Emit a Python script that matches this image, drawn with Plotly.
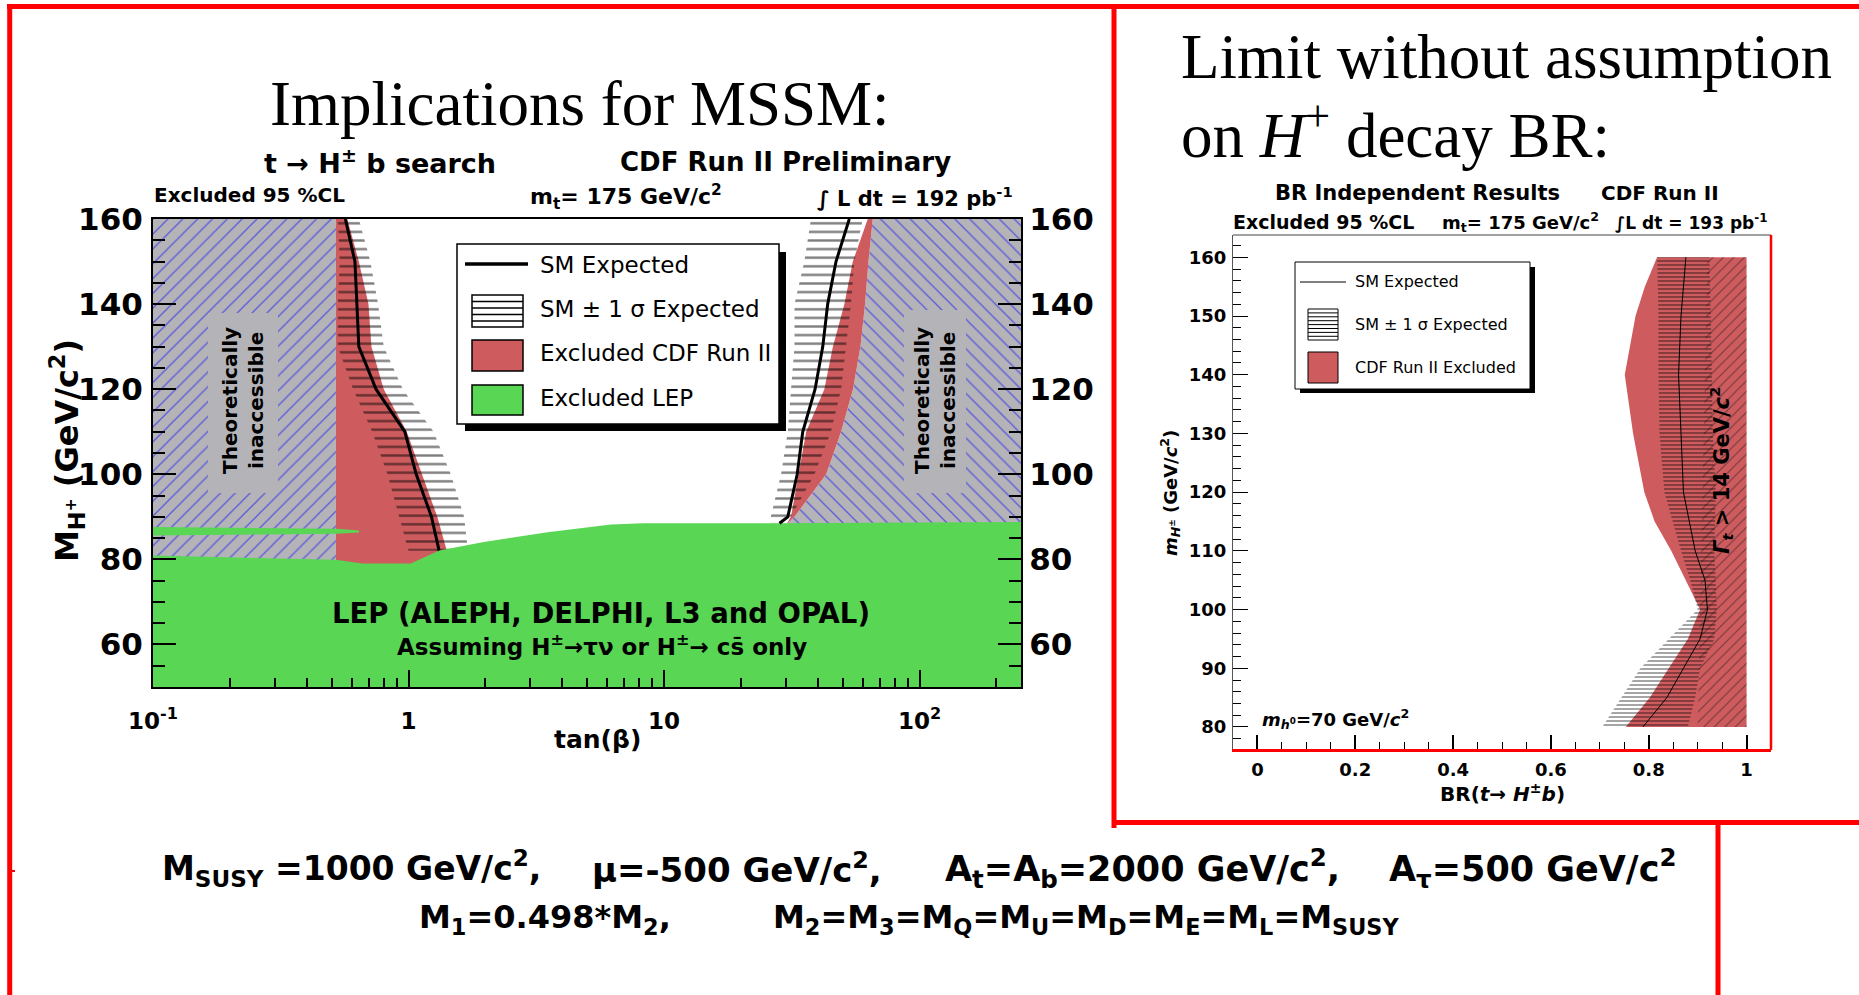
import plotly.graph_objects as go

W, H = 1859, 995
def PX(x): return x / W
def PY(y): return 1 - y / H

RED = '#ce5c5f'
GREEN = '#59d654'
GRAY = '#b4b3b8'
FRAME_RED = '#ff0000'

# ---------------- Left panel: MSSM tan(beta) vs M_H+ ----------------
x_tickvals = [0.1, 1, 10, 100]
x_ticktext = ['10<sup>-1</sup>', '1', '10', '10<sup>2</sup>']
x_minor = [0.2, 0.3, 0.4, 0.5, 0.6, 0.7, 0.8, 0.9, 2, 3, 4, 5, 6, 7, 8, 9,
           20, 30, 40, 50, 60, 70, 80, 90, 200]
y_tickvals = [60, 80, 100, 120, 140, 160]
y_minor = [50, 55, 65, 70, 75, 85, 90, 95, 105, 110, 115, 125, 130, 135, 145, 150, 155]

# LEP exclusion (top boundary of the green area)
lep_tanb = [0.1, 0.52, 0.66, 1.02, 1.32, 1.97, 3.5, 6.2, 8.3, 27.9, 250]
lep_mh = [80.9, 79.9, 79.0, 79.0, 82.1, 84.1, 86.4, 88.2, 88.5, 88.5, 88.8]
# thin LEP sliver inside the low tan(beta) region
sliver_tanb = [0.1, 0.52, 0.64, 0.64, 0.52, 0.1]
sliver_mh = [87.6, 87.2, 86.8, 86.3, 86.0, 85.6]

# low tan(beta) side
theory_low = 0.52
mh_low = [160, 150, 140, 130, 120, 110, 100, 90, 82]
obs_low = [0.576, 0.639, 0.697, 0.716, 0.800, 0.984, 1.129, 1.296, 1.412]
exp_low = [0.566, 0.617, 0.628, 0.639, 0.746, 0.967, 1.072, 1.230, 1.318]
band_low_lo = [0.529, 0.538, 0.529, 0.529, 0.607, 0.721, 0.827, 0.918, 1.0]
band_low_hi = [0.639, 0.709, 0.760, 0.800, 0.950, 1.253, 1.463, 1.65, 1.708]

# high tan(beta) side
mh_high = [160, 150, 140, 130, 120, 110, 100, 90, 88.5]
theory_high = [65.6, 63.1, 61.2, 58.7, 54.9, 49.3, 43.1, 32.4, 30.5]
obs_high = [62.7, 54.8, 50.8, 45.8, 42.4, 36.0, 33.6, 31.4, 30.3]
exp_high = [53.1, 47.1, 43.7, 41.8, 39.0, 34.9, 33.2, 30.5, 28.3]
band_high_lo = [37.6, 35.4, 32.4, 32.4, 31.4, 30.5, 28.7, 26.2, 25.8]
band_high_hi = [59.9, 55.6, 53.9, 51.6, 49.3, 45.0, 38.8, 31.4, 29.6]

# ---------------- Right panel: BR(t -> H+ b) vs m_H+ ----------------
br_tickvals = [0, 0.2, 0.4, 0.6, 0.8, 1.0]
br_ticktext = ['0', '0.2', '0.4', '0.6', '0.8', '1']
br_minor = [-0.05, 0.05, 0.1, 0.15, 0.25, 0.3, 0.35, 0.45, 0.5, 0.55, 0.65, 0.7, 0.75,
            0.85, 0.9, 0.95, 1.05]
mh_tickvals = [80, 90, 100, 110, 120, 130, 140, 150, 160]
mh_minor = [78, 82, 84, 86, 88, 92, 94, 96, 98, 102, 104, 106, 108, 112, 114, 116, 118,
            122, 124, 126, 128, 132, 134, 136, 138, 142, 144, 146, 148, 152, 154, 156, 158, 162]

mh_br = [80, 85, 90, 95, 100, 105, 110, 115, 120, 130, 140, 150, 155, 160]
obs_br = [0.753, 0.802, 0.841, 0.880, 0.905, 0.876, 0.846, 0.812, 0.791, 0.768, 0.751, 0.773, 0.792, 0.817]
mh_br_exp = [80, 85, 90, 95, 100, 105, 110, 120, 130, 140, 150, 160]
exp_br = [0.788, 0.837, 0.871, 0.905, 0.920, 0.915, 0.895, 0.871, 0.866, 0.861, 0.866, 0.876]
band_br_lo = [0.705, 0.744, 0.783, 0.841, 0.900, 0.885, 0.866, 0.832, 0.822, 0.820, 0.820, 0.817]
band_br_hi = [0.880, 0.895, 0.905, 0.934, 0.939, 0.937, 0.934, 0.937, 0.931, 0.929, 0.927, 0.924]
width_mh = [80, 100, 120, 140, 160]
width_br = [0.90, 0.905, 0.91, 0.915, 0.92]

fig = go.Figure()


def poly(xs, ys, xa='x', ya='y', **kw):
    fig.add_trace(go.Scatter(x=xs, y=ys, mode='lines', fill='toself', line=dict(width=0),
                             hoverinfo='skip', showlegend=False, xaxis=xa, yaxis=ya, **kw))


# theoretically inaccessible regions (gray + blue hatch)
poly([0.09, theory_low, theory_low, 0.09], [40, 40, 165, 165], fillcolor=GRAY,
     fillpattern=dict(shape='/', fgcolor='#0000ff', bgcolor=GRAY, size=10.5, solidity=0.12))
poly(theory_high + [theory_high[-1], 300, 300, theory_high[0]],
     mh_high + [40, 40, 165, 165], fillcolor=GRAY,
     fillpattern=dict(shape='\\', fgcolor='#0000ff', bgcolor=GRAY, size=10.5, solidity=0.12))

# CDF excluded (red)
poly([theory_low] + obs_low + [obs_low[-1], theory_low],
     [165] + mh_low + [70, 70], fillcolor=RED)
poly(obs_high + theory_high[::-1], mh_high + mh_high[::-1], fillcolor=RED)

# SM +- 1 sigma bands (horizontal hatch)
band_pat = dict(shape='-', fgcolor='black', bgcolor='rgba(0,0,0,0)', size=8.6, solidity=0.28)
poly(band_low_lo + band_low_hi[::-1], mh_low + mh_low[::-1], fillcolor='rgba(0,0,0,0)',
     fillpattern=band_pat)
poly(band_high_lo + band_high_hi[::-1], mh_high + mh_high[::-1], fillcolor='rgba(0,0,0,0)',
     fillpattern=band_pat)

# SM expected line (low tan beta)
fig.add_trace(go.Scatter(x=exp_low, y=mh_low, mode='lines', line=dict(color='black', width=3),
                         hoverinfo='skip', showlegend=False, xaxis='x', yaxis='y'))

# LEP exclusion (green)
poly(lep_tanb + [300, 0.09], lep_mh + [40, 40], fillcolor=GREEN)
poly(sliver_tanb, sliver_mh, fillcolor=GREEN)

# SM expected line (high tan beta), on the right-hand y axis of the same panel
fig.add_trace(go.Scatter(x=exp_high, y=mh_high, mode='lines', line=dict(color='black', width=3),
                         hoverinfo='skip', showlegend=False, xaxis='x', yaxis='y3'))

# ---- right panel traces ----
poly(obs_br + [1.0, 1.0], mh_br + [160, 80], xa='x2', ya='y2', fillcolor=RED)
poly(width_br + [1.0, 1.0], width_mh + [160, 80], xa='x2', ya='y2', fillcolor='rgba(0,0,0,0)',
     fillpattern=dict(shape='/', fgcolor='#111111', bgcolor='rgba(0,0,0,0)', size=7.4, solidity=0.14))
poly(band_br_lo + band_br_hi[::-1], mh_br_exp + mh_br_exp[::-1], xa='x2', ya='y2',
     fillcolor='rgba(0,0,0,0)',
     fillpattern=dict(shape='-', fgcolor='black', bgcolor='rgba(0,0,0,0)', size=4.0, solidity=0.35))
fig.add_trace(go.Scatter(x=exp_br, y=mh_br_exp, mode='lines', line=dict(color='black', width=1),
                         hoverinfo='skip', showlegend=False, xaxis='x2', yaxis='y2'))

FONT = 'DejaVu Sans'
tick_common = dict(showgrid=False, zeroline=False, tickcolor='black', automargin=False)

fig.update_layout(
    width=W, height=H, margin=dict(l=0, r=0, t=0, b=0, pad=0, autoexpand=False),
    paper_bgcolor='white', plot_bgcolor='white', showlegend=False,
    xaxis=dict(type='log', domain=[PX(153), PX(1021)], range=[-1, 2.397], anchor='y',
               showline=True, linecolor='black', linewidth=2, mirror=True,
               ticks='inside', ticklen=17, tickwidth=2,
               tickvals=x_tickvals, ticktext=x_ticktext,
               minor=dict(ticks='inside', ticklen=9, tickwidth=2, tickcolor='black', tickvals=x_minor),
               tickfont=dict(family=FONT, size=23, color='black', weight='bold'),
               ticklabelstandoff=12, **tick_common),
    yaxis=dict(domain=[PY(687), PY(219)], range=[50, 160], anchor='x',
               showline=True, linecolor='black', linewidth=2,
               ticks='inside', ticklen=23, tickwidth=2, tickvals=y_tickvals,
               minor=dict(ticks='inside', ticklen=12, tickwidth=2, tickcolor='black', tickvals=y_minor),
               tickfont=dict(family=FONT, size=31, color='black', weight='bold'),
               ticklabelstandoff=2, **tick_common),
    yaxis3=dict(overlaying='y', side='right', anchor='x', range=[50, 160],
                showline=True, linecolor='black', linewidth=2,
                ticks='inside', ticklen=23, tickwidth=2, tickvals=y_tickvals,
                minor=dict(ticks='inside', ticklen=12, tickwidth=2, tickcolor='black', tickvals=y_minor),
                tickfont=dict(family=FONT, size=31, color='black', weight='bold'),
                ticklabelstandoff=0, **tick_common),
    xaxis2=dict(domain=[PX(1233), PX(1771)], range=[-0.05, 1.05], anchor='y2',
                showline=True, linecolor=FRAME_RED, linewidth=3,
                ticks='inside', ticklen=14, tickwidth=1.5, tickvals=br_tickvals, ticktext=br_ticktext,
                minor=dict(ticks='inside', ticklen=7, tickwidth=1.2, tickcolor='black', tickvals=br_minor),
                tickfont=dict(family=FONT, size=18, color='black', weight='bold'),
                ticklabelstandoff=2, **tick_common),
    yaxis2=dict(domain=[PY(749), PY(235)], range=[76.25, 163.8], anchor='x2',
                showline=True, linecolor='#555555', linewidth=1,
                ticks='inside', ticklen=15, tickwidth=1.2, tickvals=mh_tickvals,
                minor=dict(ticks='inside', ticklen=8, tickwidth=1, tickcolor='black', tickvals=mh_minor),
                tickfont=dict(family=FONT, size=18, color='black', weight='bold'),
                ticklabelstandoff=2, **tick_common),
)


def shape_line(x0, y0, x1, y1, color='black', width=1):
    fig.add_shape(type='line', xref='paper', yref='paper', x0=PX(x0), y0=PY(y0), x1=PX(x1), y1=PY(y1),
                  line=dict(color=color, width=width), layer='above')


def shape_rect(x0, y0, x1, y1, fill, line_color=None, width=0):
    fig.add_shape(type='rect', xref='paper', yref='paper', x0=PX(x0), y0=PY(y0), x1=PX(x1), y1=PY(y1),
                  fillcolor=fill, line=dict(color=line_color or fill, width=width), layer='above')


def txt(x, y, text, size, bold=False, family=FONT, xanchor='center', angle=0, color='black'):
    fig.add_annotation(x=PX(x), y=PY(y), xref='paper', yref='paper', text=text, showarrow=False,
                       xanchor=xanchor, yanchor='middle', textangle=angle,
                       font=dict(family=family, size=size, color=color,
                                 weight='bold' if bold else 'normal'))


# slide frame lines
shape_line(7, 6.5, 1859, 6.5, FRAME_RED, 5)
shape_line(9.7, 4, 9.7, 995, FRAME_RED, 5)
shape_line(1114, 4, 1114, 828, FRAME_RED, 5)
shape_line(1114, 822.5, 1859, 822.5, FRAME_RED, 5)
shape_line(1718, 822, 1718, 995, FRAME_RED, 5)
shape_line(9, 871, 15, 871, FRAME_RED, 2)

# right panel frame top/right
shape_line(1233, 235, 1771, 235, '#444444', 1)
shape_line(1771, 235, 1771, 750, FRAME_RED, 2.5)

# gray label boxes
shape_rect(208, 313, 278, 493, GRAY)
shape_rect(904, 310, 966, 493, GRAY)
txt(243, 401, 'Theoretically<br>inaccessible', 20, bold=True, angle=-90)
txt(935, 401, 'Theoretically<br>inaccessible', 20, bold=True, angle=-90)

# left legend
shape_rect(465, 252, 786, 431, 'black')
shape_rect(457, 244, 779, 424, 'white', 'black', 1.5)
shape_line(465, 264, 528, 264, 'black', 3.5)
shape_rect(472, 295, 523, 327, 'white', 'black', 1.5)
for yy in (301.5, 308, 314.5, 321):
    shape_line(472, yy, 523, yy, 'black', 1.5)
shape_rect(472, 340, 523, 371, RED, 'black', 1.5)
shape_rect(472, 385, 523, 415, GREEN, 'black', 1.5)
txt(538, 265, 'SM Expected', 23, xanchor='left')
txt(538, 309, 'SM ± 1 σ Expected', 23, xanchor='left')
txt(538, 353, 'Excluded CDF Run II', 23, xanchor='left')
txt(538, 398, 'Excluded LEP', 23, xanchor='left')

# right legend
shape_rect(1300, 267, 1535, 393, 'black')
shape_rect(1295, 262, 1530, 389, 'white', 'black', 1)
shape_line(1300, 282, 1346, 282, 'black', 1.2)
shape_rect(1308, 309, 1338, 340, 'white', 'black', 1)
for k in range(1, 8):
    shape_line(1308, 309 + k * 3.9, 1338, 309 + k * 3.9, 'black', 1)
shape_rect(1308, 352, 1338, 383, RED, 'black', 1)
txt(1353, 282, 'SM Expected', 16, xanchor='left')
txt(1353, 325, 'SM ± 1 σ Expected', 16, xanchor='left')
txt(1353, 367, 'CDF Run II Excluded', 16, xanchor='left')

# slide titles
txt(580, 104, 'Implications for MSSM:', 63, family='Liberation Serif')
txt(1179, 57, 'Limit without assumption', 63, family='Liberation Serif', xanchor='left')
txt(1179, 131, 'on <i>H</i><sup>+</sup> decay BR:', 63, family='Liberation Serif', xanchor='left')

# left panel headers
txt(380, 162, 't → H<sup>±</sup> b search', 27, bold=True)
txt(785, 162, 'CDF Run II Preliminary', 26, bold=True)
txt(249, 195, 'Excluded 95 %CL', 20, bold=True)
txt(626, 197, 'm<sub>t</sub>= 175 GeV/c<sup>2</sup>', 22, bold=True)
txt(915, 197, '∫ L dt = 192 pb<sup>-1</sup>', 21, bold=True)

# left panel axis titles
txt(597, 739, 'tan(β)', 25, bold=True)
txt(67, 451, 'M<sub>H<sup>+</sup></sub> (GeV/c<sup>2</sup>)', 32, bold=True, angle=-90)

# LEP labels
txt(601, 613, 'LEP (ALEPH, DELPHI, L3 and OPAL)', 27.5, bold=True)
txt(602, 645, 'Assuming H<sup>±</sup>→τν or H<sup>±</sup>→ cs̄ only', 23, bold=True)

# right panel headers
txt(1417, 193, 'BR Independent Results', 21, bold=True)
txt(1660, 193, 'CDF Run II', 20, bold=True)
txt(1323, 222, 'Excluded 95 %CL', 19, bold=True)
txt(1520, 222, 'm<sub>t</sub>= 175 GeV/c<sup>2</sup>', 18, bold=True)
txt(1691, 222, '∫L dt = 193 pb<sup>-1</sup>', 17, bold=True)

# right panel axis titles and labels
txt(1502, 793, 'BR(<i>t</i>→ <i>H</i><sup>±</sup><i>b</i>)', 20, bold=True)
txt(1170, 493, '<i>m</i><sub><i>H</i><sup>±</sup></sub> (GeV/<i>c</i><sup>2</sup>)', 18, bold=True, angle=-90)
txt(1260, 719, '<i>m</i><sub><i>h</i><sup>0</sup></sub>=70 GeV/<i>c</i><sup>2</sup>', 18, bold=True, xanchor='left')
txt(1721, 471, '<i>Γ</i><sub><i>t</i></sub> > 14 GeV/<i>c</i><sup>2</sup>', 21, bold=True, angle=-90)

# bottom parameter text
txt(160, 868, 'M<sub>SUSY</sub> =1000 GeV/c<sup>2</sup>,', 33, bold=True, xanchor='left')
txt(590, 868, 'μ=-500 GeV/c<sup>2</sup>,', 34, bold=True, xanchor='left')
txt(943, 868, 'A<sub>t</sub>=A<sub>b</sub>=2000 GeV/c<sup>2</sup>,', 35, bold=True, xanchor='left')
txt(1387, 868, 'A<sub>τ</sub>=500 GeV/c<sup>2</sup>', 35, bold=True, xanchor='left')
txt(417, 919, 'M<sub>1</sub>=0.498*M<sub>2</sub>,', 32, bold=True, xanchor='left')
txt(771, 919, 'M<sub>2</sub>=M<sub>3</sub>=M<sub>Q</sub>=M<sub>U</sub>=M<sub>D</sub>=M<sub>E</sub>='
              'M<sub>L</sub>=M<sub>SUSY</sub>', 32, bold=True, xanchor='left')

fig.write_html('out.html')
